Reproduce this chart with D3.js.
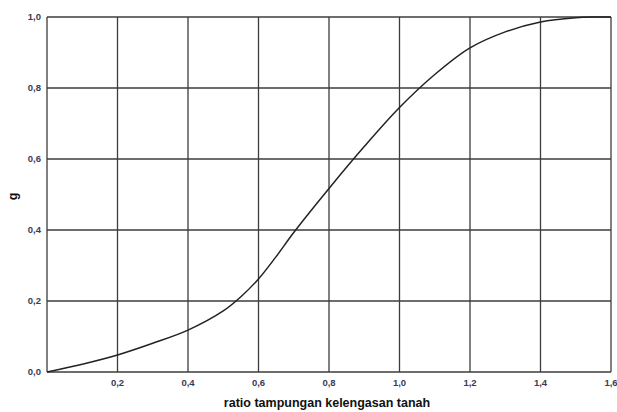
<!DOCTYPE html>
<html>
<head>
<meta charset="utf-8">
<script src="https://cdn.jsdelivr.net/npm/d3@7"></script>
<style>
  body { margin: 0; background: #fff; overflow: hidden; }
  .tick-label { font-family: "Liberation Sans", Arial, sans-serif; font-size: 9.5px; font-weight: bold; fill: #3a3a55; }
  .axis-title { font-family: "Liberation Sans", Arial, sans-serif; font-size: 12.5px; font-weight: bold; fill: #111; }
  .grid-line { stroke: #3c3c3c; stroke-width: 1.3; }
</style>
</head>
<body>
<div id="chart"></div>
<script>
// ratio values (x) and g
const ratio = [0, 0.1, 0.2, 0.3, 0.4, 0.5, 0.55, 0.6, 0.65, 0.7, 0.8, 0.9, 1.0, 1.1, 1.2, 1.3, 1.4, 1.5, 1.55, 1.6];
const gValues = [0, 0.022, 0.048, 0.081, 0.118, 0.172, 0.212, 0.262, 0.325, 0.393, 0.517, 0.635, 0.745, 0.838, 0.913, 0.958, 0.986, 0.998, 1.0, 1.0];

const xTicks = [0.2, 0.4, 0.6, 0.8, 1.0, 1.2, 1.4, 1.6];
const yTicks = [0.0, 0.2, 0.4, 0.6, 0.8, 1.0];
const xTitle = 'ratio tampungan kelengasan tanah';
const yTitle = 'g';

const width = 617;
const height = 412;
const marginLeft = 47;
const marginRight = 6;
const marginTop = 17;
const marginBottom = 40;

const innerWidth = width - marginLeft - marginRight;
const innerHeight = height - marginTop - marginBottom;

const svg = d3.select('#chart')
  .append('svg')
  .attr('width', width)
  .attr('height', height)
  .style('display', 'block');

const chart = svg.append('g')
  .attr('transform', 'translate(' + marginLeft + ',' + marginTop + ')');

const x = d3.scaleLinear().domain([0, 1.6]).range([0, innerWidth]);
const y = d3.scaleLinear().domain([0, 1]).range([innerHeight, 0]);

const fmt = (v) => d3.format('.1f')(v).replace('.', ',');

// gridlines
chart.append('g')
  .selectAll('line')
  .data(xTicks)
  .enter()
  .append('line')
  .attr('class', 'grid-line')
  .attr('x1', (d) => x(d))
  .attr('x2', (d) => x(d))
  .attr('y1', 0)
  .attr('y2', innerHeight);

chart.append('g')
  .selectAll('line')
  .data(yTicks)
  .enter()
  .append('line')
  .attr('class', 'grid-line')
  .attr('x1', 0)
  .attr('x2', innerWidth)
  .attr('y1', (d) => y(d))
  .attr('y2', (d) => y(d));

// left axis line
chart.append('line')
  .attr('class', 'grid-line')
  .attr('x1', 0).attr('x2', 0)
  .attr('y1', 0).attr('y2', innerHeight);

// tick labels
chart.append('g')
  .selectAll('text')
  .data(yTicks)
  .enter()
  .append('text')
  .attr('class', 'tick-label')
  .attr('x', -6)
  .attr('y', (d) => y(d))
  .attr('dy', '0.3em')
  .attr('text-anchor', 'end')
  .text((d) => fmt(d));

chart.append('g')
  .selectAll('text')
  .data(xTicks)
  .enter()
  .append('text')
  .attr('class', 'tick-label')
  .attr('x', (d) => x(d))
  .attr('y', innerHeight + 14)
  .attr('text-anchor', 'middle')
  .text((d) => fmt(d));

// titles
svg.append('text')
  .attr('class', 'axis-title')
  .attr('x', marginLeft + innerWidth / 2 - 2)
  .attr('y', height - 5)
  .attr('text-anchor', 'middle')
  .text(xTitle);

svg.append('text')
  .attr('class', 'axis-title')
  .attr('transform', 'translate(17,' + (marginTop + innerHeight / 2 + 2) + ') rotate(-90)')
  .attr('text-anchor', 'middle')
  .text(yTitle);

// curve
const line = d3.line()
  .x((d, i) => x(ratio[i]))
  .y((d) => y(d))
  .curve(d3.curveCatmullRom.alpha(0.5));

chart.append('path')
  .datum(gValues)
  .attr('fill', 'none')
  .attr('stroke', '#222')
  .attr('stroke-width', 1.5)
  .attr('d', line);
</script>
</body>
</html>
